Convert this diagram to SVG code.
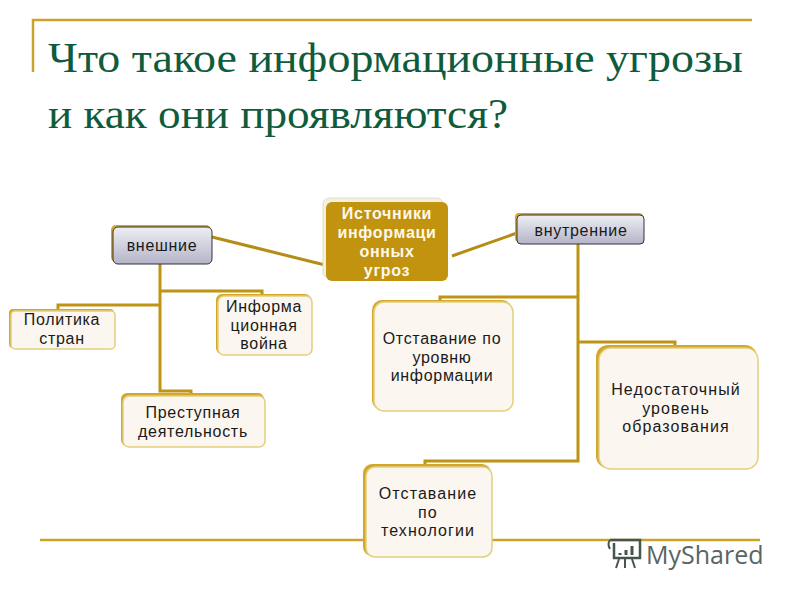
<svg xmlns="http://www.w3.org/2000/svg" width="800" height="600" viewBox="0 0 800 600">
<defs>
<linearGradient id="g" x1="0" y1="0" x2="0" y2="1"><stop offset="0" stop-color="#eeeef4"/><stop offset="1" stop-color="#b4b4c8"/></linearGradient>
<style>
.title{font-family:"Liberation Serif",serif;font-size:43px;fill:#0f5c3c}
.t{font-family:"Liberation Sans",Arial,sans-serif;font-size:16px;letter-spacing:.7px;fill:#1a1a1a;text-anchor:middle}
.b{font-family:"Liberation Sans",Arial,sans-serif;font-size:16px;letter-spacing:.7px;font-weight:bold;fill:#fff8ea;text-anchor:middle}
.w{letter-spacing:1.1px}
.back{fill:#d2a72c}
.box{fill:#fbf6ef;stroke:#e3d07e;stroke-width:1.5}
.dark{fill:url(#g);stroke:#33333f;stroke-width:1}
.rule{stroke:#c9a22f;stroke-width:2.5;fill:none}
.c{stroke:#bf9314;stroke-width:3;fill:none}
.c2{stroke:#b58c16;stroke-width:3;fill:none}
</style>
</defs>
<rect width="800" height="600" fill="#fff"/>
<g id="frame">
<path class="rule" d="M33 72V20H752"/>
<path class="rule" d="M40 540H760"/>
</g>
<g id="title">
<text class="title" x="48" y="72" textLength="695" lengthAdjust="spacingAndGlyphs">Что такое информационные угрозы</text>
<text class="title" x="48" y="128" textLength="460" lengthAdjust="spacingAndGlyphs">и как они проявляются?</text>
</g>
<g id="connectors">
<path class="c2" d="M212 237L325 265"/>
<path class="c2" d="M452 256L517 233"/>
<path class="c" d="M160 264V391H191V394"/>
<path class="c" d="M160 305H58V309"/>
<path class="c" d="M160 291H262V294"/>
<path class="c" d="M578 244V461H425V465"/>
<path class="c" d="M578 297H440V301"/>
<path class="c" d="M578 342H675V346"/>
</g>
<g id="n-vneshnie">
<rect class="back" x="111" y="225" width="100" height="37" rx="5"/>
<rect class="dark" x="113" y="227" width="99" height="37" rx="5"/>
<text class="t" x="162" y="251">внешние</text>
</g>
<g id="n-politika">
<rect class="back" x="9" y="309" width="105" height="39" rx="4"/>
<rect class="box" x="11" y="311" width="104" height="38" rx="4"/>
<text class="t" x="62" y="325">Политика</text>
<text class="t" x="62" y="344">стран</text>
</g>
<g id="n-informa">
<rect class="back" x="216" y="294" width="95" height="60" rx="6"/>
<rect class="box" x="218" y="296" width="94" height="59" rx="6"/>
<text class="t" x="264" y="312">Информа</text>
<text class="t" x="264" y="331">ционная</text>
<text class="t" x="264" y="349">война</text>
</g>
<g id="n-prestup">
<rect class="back" x="121" y="393" width="143" height="53" rx="6"/>
<rect class="box" x="123" y="396" width="142" height="51" rx="6"/>
<text class="t" x="193" y="418">Преступная</text>
<text class="t" x="193" y="437">деятельность</text>
</g>
<g id="n-source">
<rect x="323" y="198" width="120" height="80" rx="6" fill="#f4efdf" stroke="#e2dcc8"/>
<rect x="326" y="202" width="122" height="79" rx="6" fill="#c1930f"/>
<text class="b" x="387" y="219">Источники</text>
<text class="b" x="387" y="238">информаци</text>
<text class="b" x="387" y="257">онных</text>
<text class="b" x="387" y="276">угроз</text>
</g>
<g id="n-vnutr">
<rect class="back" x="515" y="213" width="128" height="29" rx="4"/>
<rect class="dark" x="517" y="215" width="127" height="29" rx="4"/>
<text class="t" x="581" y="236">внутренние</text>
</g>
<g id="n-uroven">
<rect class="back" x="372" y="300" width="140" height="110" rx="10"/>
<rect class="box" x="374" y="302" width="139" height="109" rx="10"/>
<text class="t" x="442" y="344">Отставание по</text>
<text class="t" x="442" y="363">уровню</text>
<text class="t" x="442" y="381">информации</text>
</g>
<g id="n-obraz">
<rect class="back" x="596" y="345" width="161" height="123" rx="12"/>
<rect class="box" x="599" y="348" width="159" height="121" rx="12"/>
<text class="t w" x="676" y="395">Недостаточный</text>
<text class="t w" x="676" y="414">уровень</text>
<text class="t w" x="676" y="432">образования</text>
</g>
<g id="n-tehno">
<rect class="back" x="363" y="464" width="128" height="92" rx="9"/>
<rect class="box" x="366" y="467" width="126" height="90" rx="9"/>
<text class="t w" x="428" y="499">Отставание</text>
<text class="t w" x="428" y="518">по</text>
<text class="t w" x="428" y="536">технологии</text>
</g>
<g id="logo">
<path d="M610 540H640V558H614V543" fill="none" stroke="#46564c" stroke-width="2.5"/>
<path d="M610 540q-3 4 0 9M619 559l-3 9M625 559v9M632 559l3 9" fill="none" stroke="#46564c" stroke-width="2"/>
<path d="M620 555v-2M626 555v-5M632 555v-9" stroke="#46564c" stroke-width="3"/>
<text x="646" y="564" font-family="'Open Sans',sans-serif" font-size="25" fill="#5a6462">MyShared</text>
</g>
</svg>
